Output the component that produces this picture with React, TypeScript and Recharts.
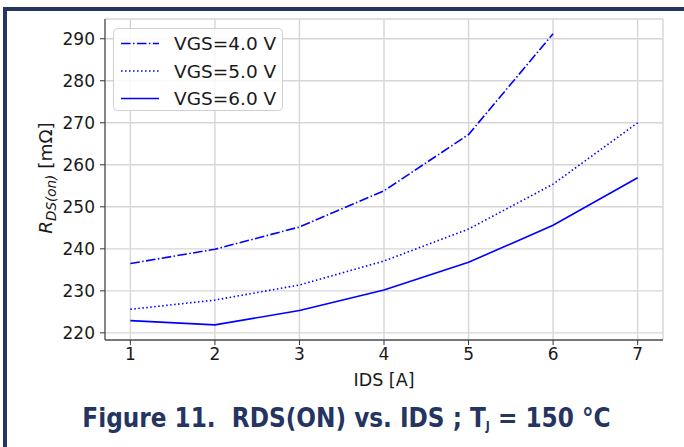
import React from "react";
import { LineChart, Line, XAxis, YAxis, CartesianGrid } from "recharts";

const idsValues = [1, 2, 3, 4, 5, 6, 7];
const vgs40 = [236.5, 239.9, 245.2, 253.8, 267.2, 291.2];
const vgs50 = [225.6, 227.8, 231.4, 237.1, 244.7, 255.4, 270.0];
const vgs60 = [222.9, 221.9, 225.3, 230.2, 236.8, 245.6, 256.9];
const xTicks = [1, 2, 3, 4, 5, 6, 7];
const yTicks = [220, 230, 240, 250, 260, 270, 280, 290];
const seriesNames = ["VGS=4.0 V", "VGS=5.0 V", "VGS=6.0 V"];

const data = idsValues.map((x, i) => ({
  ids: x,
  v4: vgs40[i],
  v5: vgs50[i],
  v6: vgs60[i],
}));

const BLUE = "#0000ff";
const NAVY = "#253561";
const FONT = "'DejaVu Sans', sans-serif";
const TITLE_FONT = "'DejaVu Sans Condensed', 'DejaVu Sans', sans-serif";
const dashes = ["9.6 2.4 1.5 2.4", "1.5 2.5", undefined];

const YLabel = () => (
  <text
    transform="translate(52,178) rotate(-90)"
    textAnchor="middle"
    fontFamily={FONT}
    fontSize={18.5}
    fill="#1a1a1a"
  >
    <tspan fontStyle="italic">R</tspan>
    <tspan fontStyle="italic" fontSize={13.5} dy={4}>DS(on)</tspan>
    <tspan dy={-4}>{" [mΩ]"}</tspan>
  </text>
);

export default function App() {
  return (
    <div style={{ position: "absolute", left: 0, top: 0, width: 684, height: 447, background: "#fff" }}>
      <LineChart
        width={684}
        height={447}
        data={data}
        margin={{ top: 19, right: 21, left: 0, bottom: 0 }}
      >
        <CartesianGrid stroke="#d6d6d6" strokeWidth={1.4} />
        <XAxis
          dataKey="ids"
          type="number"
          domain={[0.7, 7.3]}
          ticks={xTicks}
          height={107}
          tickSize={5}
          tickMargin={3}
          stroke="#333"
          axisLine={{ stroke: "#555", strokeWidth: 1.3 }}
          tick={{ fill: "#1a1a1a", fontSize: 17, fontFamily: FONT }}
          allowDataOverflow
          label={{ value: "IDS [A]", position: "insideTop", offset: 34, fill: "#1a1a1a", fontSize: 17.5, fontFamily: FONT }}
        />
        <XAxis
          xAxisId="top"
          orientation="top"
          dataKey="ids"
          type="number"
          domain={[0.7, 7.3]}
          height={0}
          tick={false}
          tickLine={false}
          axisLine={{ stroke: "#555", strokeWidth: 1.3 }}
        />
        <YAxis
          type="number"
          domain={[218.3, 294.7]}
          ticks={yTicks}
          width={105}
          tickSize={5}
          tickMargin={5}
          stroke="#333"
          axisLine={{ stroke: "#555", strokeWidth: 1.3 }}
          tick={{ fill: "#1a1a1a", fontSize: 17, fontFamily: FONT }}
          allowDataOverflow
          label={<YLabel />}
        />
        <YAxis
          yAxisId="right"
          orientation="right"
          type="number"
          domain={[218.3, 294.7]}
          width={0}
          tick={false}
          tickLine={false}
          axisLine={{ stroke: "#555", strokeWidth: 1.3 }}
        />
        <Line dataKey="v4" name={seriesNames[0]} stroke={BLUE} strokeWidth={1.6} strokeDasharray={dashes[0]} dot={false} isAnimationActive={false} />
        <Line dataKey="v5" name={seriesNames[1]} stroke={BLUE} strokeWidth={1.6} strokeDasharray={dashes[1]} dot={false} isAnimationActive={false} />
        <Line dataKey="v6" name={seriesNames[2]} stroke={BLUE} strokeWidth={1.6} dot={false} isAnimationActive={false} />
      </LineChart>
      <svg
        width={684}
        height={447}
        style={{ position: "absolute", left: 0, top: 0, pointerEvents: "none" }}
      >
        <rect x={3} y={7} width={681} height={4} fill={NAVY} />
        <rect x={3} y={7} width={4} height={440} fill={NAVY} />
        <rect x={113.5} y={28.5} width={169} height={82} rx={4} fill="#fff" fillOpacity={0.85} stroke="#d0d0d0" strokeWidth={1} />
        {seriesNames.map((name, i) => {
          const y = 43.5 + i * 27.5;
          return (
            <g key={name}>
              <line x1={121} x2={159} y1={y} y2={y} stroke={BLUE} strokeWidth={1.6} strokeDasharray={dashes[i]} />
              <text x={174} y={y} dy="0.36em" fontFamily={FONT} fontSize={18.5} fill="#1a1a1a">{name}</text>
            </g>
          );
        })}
        <text
          x={346.5}
          y={427}
          textAnchor="middle"
          fontFamily={TITLE_FONT}
          fontWeight="bold"
          fontSize={25.8}
          fill={NAVY}
          style={{ whiteSpace: "pre" }}
        >
          {"Figure 11.  RDS(ON) vs. IDS ; T"}
          <tspan fontSize={12} dy={3}>J</tspan>
          <tspan dy={-3}>{" = 150 °C"}</tspan>
        </text>
      </svg>
    </div>
  );
}
